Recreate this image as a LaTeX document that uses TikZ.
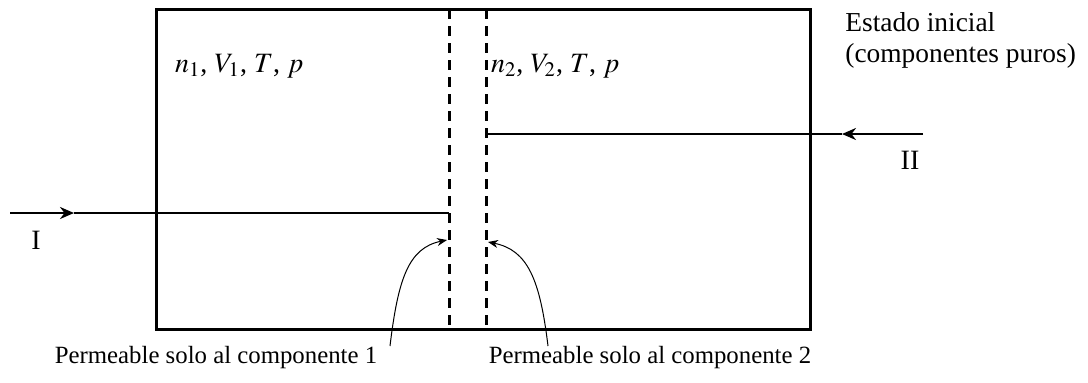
\documentclass[tikz,border=0pt]{standalone}
\usepackage{mathptmx}
\usepackage{fontspec}
\setmainfont{Liberation Serif}
\usetikzlibrary{arrows.meta}

\tikzset{
  wall/.style={line width=1.5pt},
  membrane/.style={line width=1.5pt, dash pattern=on 5pt off 3.5pt},
  flow/.style={line width=1.4pt},
  note/.style={-{Stealth[length=5pt,width=4pt]}, line width=0.5pt},
  big/.style={font=\fontsize{14}{17}\selectfont},
  side/.style={font=\fontsize{13.7}{15.5}\selectfont},
  small/.style={font=\fontsize{12.4}{14}\selectfont}
}

\begin{document}
\begin{tikzpicture}[x=0.5pt, y=-0.5pt, >={Stealth[length=7pt,width=6pt]}]
    \useasboundingbox (0,0) rectangle (1088,382);

    % recipiente
    \draw[wall] (156,9) rectangle (810,329);

    % membranas semipermeables
    \coordinate (m1top) at (449,9);
    \coordinate (m1bot) at (449,329);
    \coordinate (m2top) at (486,9);
    \coordinate (m2bot) at (486,329);
    \draw[membrane] (m1top) -- (m1bot);
    \draw[membrane] (m2top) -- (m2bot);

    % camino I
    \coordinate (inI) at (10,213);
    \coordinate (midI) at (74,213);
    \coordinate (endI) at (449,213);
    \draw[flow,->] (inI) -- (midI);
    \draw[flow] (midI) -- (endI);
    \node[big] (labI) at (36,240) {I};

    % camino II
    \coordinate (inII) at (923,134);
    \coordinate (midII) at (842,134);
    \coordinate (endII) at (486,134);
    \draw[flow,->] (inII) -- (midII);
    \draw[flow] (midII) -- (endII);
    \node[big] (labII) at (910,160) {II};

    % variables de estado
    \node[big, anchor=west] (est1) at (168,66) {$n_1$, $V_1$, $T$, $p$};
    \node[big, anchor=west] (est2) at (484,66) {$n_2$, $V_2$, $T$, $p$};

    \node[side, anchor=north west, align=left, inner sep=0pt] (estado) at (845,12)
        {Estado inicial\\(componentes puros)};

    % rotulos de las membranas
    \node[small] (perm1) at (216,358) {Permeable solo al componente 1};
    \node[small] (perm2) at (650,358) {Permeable solo al componente 2};
    \coordinate (p1) at (390,346);
    \coordinate (p2) at (548,346);
    \coordinate (t1) at (447,240);
    \coordinate (t2) at (488,242);
    \draw[note] (p1) .. controls (398,280) and (408,248) .. (t1);
    \draw[note] (p2) .. controls (540,280) and (528,250) .. (t2);

\end{tikzpicture}
\end{document}
